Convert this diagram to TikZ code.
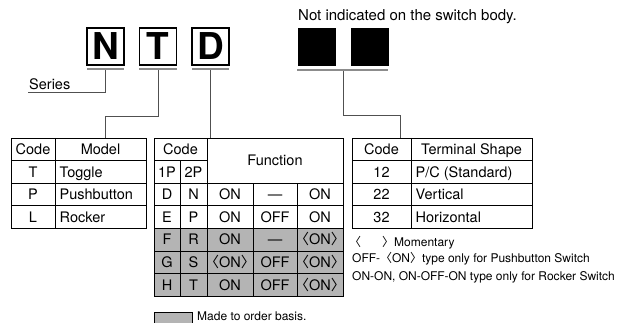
\documentclass[tikz,border=0pt]{standalone}
\usepackage{fontspec}
\setmainfont{TeX Gyre Heros}
\newfontfamily\cjk{Noto Sans CJK JP}
\usetikzlibrary{positioning}
\definecolor{ink}{HTML}{000000}
\definecolor{wirec}{HTML}{505050}
\definecolor{rulec}{HTML}{8C8C8C}
\definecolor{mtogray}{HTML}{B4B4B4}
\tikzset{
  letterbox/.style={rectangle, draw=ink, line width=1.2pt, fill=white, minimum width=37pt,
                    minimum height=37pt, inner sep=0pt, font=\fontsize{37}{37}\selectfont\bfseries},
  blankbox/.style={rectangle, fill=ink, minimum width=38pt, minimum height=38pt, inner sep=0pt},
  underrule/.style={draw=rulec, line width=2pt},
  wire/.style={draw=wirec, line width=0.9pt},
  grid/.style={draw=ink, line width=0.8pt},
  cell/.style={font=\fontsize{14.5}{16}\selectfont, inner sep=0pt, text height=10.4pt, text depth=0pt},
  lcell/.style={cell, anchor=west},
  note/.style={font=\fontsize{12}{14}\selectfont, inner sep=0pt, anchor=west, text height=8.6pt, text depth=0pt}
}

\begin{document}
\begin{tikzpicture}[x=1pt, y=-1pt]
  \useasboundingbox (0,0) rectangle (634,323);

  % part number boxes
  \node[letterbox] (boxN) at (105.5,46.5) {N};
  \node[letterbox] (boxT) at (158,46.5) {T};
  \node[letterbox] (boxD) at (210.5,46.5) {D};
  \node[blankbox] (blankA) at (316.5,47) {};
  \node[blankbox] (blankB) at (369.5,47) {};
  \node[cell, anchor=west, font=\fontsize{15}{16}\selectfont] (hint) at (298,15) {Not indicated on the switch body.};

  \draw[underrule] (87,69.5) -- (124,69.5);
  \draw[underrule] (139,69.5) -- (177,69.5);
  \draw[underrule] (192,69.5) -- (229,69.5);
  \draw[underrule] (297,70) -- (388,70);

  \coordinate (nfoot) at (105.5,70.5);
  \coordinate (tfoot) at (158,70.5);
  \coordinate (dfoot) at (210.5,70.5);
  \coordinate (xfoot) at (343,71);
  \coordinate (serieskey) at (28,92);
  \coordinate (tbend) at (105,116);
  \coordinate (xbend) at (400,115);
  \coordinate (modeltop) at (105,138);
  \coordinate (functop) at (210.5,138);
  \coordinate (termtop) at (400,138);

  \node[cell, anchor=west] (series) at (29,84) {Series};
  \draw[wire] (nfoot) |- (serieskey);
  \draw[wire] (tfoot) |- (tbend) -- (modeltop);
  \draw[wire] (dfoot) -- (functop);
  \draw[wire] (xfoot) |- (xbend) -- (termtop);

  % model table
  \draw[grid] (11,138) rectangle (146,228.4);
  \draw[grid] (55,138) -- (55,228.4);
  \foreach \y in {160.6,183.2,205.8} \draw[grid] (11,\y) -- (146,\y);
  \node[cell] (mcode) at (33,149.3) {Code};
  \node[cell] (mhead) at (100.5,149.3) {Model};
  \node[cell] (mT) at (33,171.9) {T};
  \node[cell] (mP) at (33,194.5) {P};
  \node[cell] (mL) at (33,217.1) {L};
  \node[lcell] (toggle) at (59.5,171.9) {Toggle};
  \node[lcell] (push) at (59.5,194.5) {Pushbutton};
  \node[lcell] (rocker) at (59.5,217.1) {Rocker};

  % function table
  \fill[mtogray] (154,228.4) rectangle (343,296.2);
  \draw[grid] (154,138) rectangle (343,296.2);
  \draw[grid] (154,160.6) -- (207,160.6);
  \draw[grid] (154,183.2) -- (343,183.2);
  \foreach \y in {205.8,228.4,251,273.6} \draw[grid] (154,\y) -- (343,\y);
  \draw[grid] (180,160.6) -- (180,296.2);
  \draw[grid] (207,138) -- (207,296.2);
  \draw[grid] (253,183.2) -- (253,296.2);
  \draw[grid] (297,183.2) -- (297,296.2);
  \node[cell] (fcode) at (180.5,149.3) {Code};
  \node[cell] (f1p) at (167,171.9) {1P};
  \node[cell] (f2p) at (193.5,171.9) {2P};
  \node[cell] (fhead) at (275,160.6) {Function};
  \node[cell] (fD) at (167,194.5) {D};   \node[cell] (fN) at (193.5,194.5) {N};
  \node[cell] (fE) at (167,217.1) {E};   \node[cell] (fP) at (193.5,217.1) {P};
  \node[cell] (fF) at (167,239.7) {F};   \node[cell] (fR) at (193.5,239.7) {R};
  \node[cell] (fG) at (167,262.3) {G};   \node[cell] (fS) at (193.5,262.3) {S};
  \node[cell] (fH) at (167,284.9) {H};   \node[cell] (fT) at (193.5,284.9) {T};
  \node[cell] (d1) at (230,194.5) {ON}; \node[cell] (d2) at (275,194.5) {—};   \node[cell] (d3) at (320,194.5) {ON};
  \node[cell] (e1) at (230,217.1) {ON}; \node[cell] (e2) at (275,217.1) {OFF}; \node[cell] (e3) at (320,217.1) {ON};
  \node[cell] (r1) at (230,239.7) {ON}; \node[cell] (r2) at (275,239.7) {—};   \node[cell] (r3) at (320,239.7) {{\cjk 〈}ON{\cjk 〉}};
  \node[cell] (s1) at (230,262.3) {{\cjk 〈}ON{\cjk 〉}}; \node[cell] (s2) at (275,262.3) {OFF}; \node[cell] (s3) at (320,262.3) {{\cjk 〈}ON{\cjk 〉}};
  \node[cell] (t1) at (230,284.9) {ON}; \node[cell] (t2) at (275,284.9) {OFF}; \node[cell] (t3) at (320,284.9) {{\cjk 〈}ON{\cjk 〉}};

  % terminal table
  \draw[grid] (352,138) rectangle (532,228.4);
  \draw[grid] (411,138) -- (411,228.4);
  \foreach \y in {160.6,183.2,205.8} \draw[grid] (352,\y) -- (532,\y);
  \node[cell] (tcode) at (381.5,149.3) {Code};
  \node[cell] (thead) at (471.5,149.3) {Terminal Shape};
  \node[cell] (t12) at (381.5,171.9) {12};
  \node[cell] (t22) at (381.5,194.5) {22};
  \node[cell] (t32) at (381.5,217.1) {32};
  \node[lcell] (pc) at (415.5,171.9) {P/C (Standard)};
  \node[lcell] (vert) at (415.5,194.5) {Vertical};
  \node[lcell] (horiz) at (415.5,217.1) {Horizontal};

  % notes
  \node[note] (mom) at (349,241.7) {{\cjk 〈}\hspace{21pt}{\cjk 〉}Momentary};
  \node[note] (offon) at (352,258.5) {OFF-{\cjk 〈}ON{\cjk 〉}type only for Pushbutton Switch};
  \node[note] (onon) at (352,275.7) {ON-ON, ON-OFF-ON type only for Rocker Switch};

  % legend
  \draw[grid, fill=mtogray] (154,312) rectangle (192,326);
  \node[note] (legend) at (197,316) {Made to order basis.};
\end{tikzpicture}
\end{document}
